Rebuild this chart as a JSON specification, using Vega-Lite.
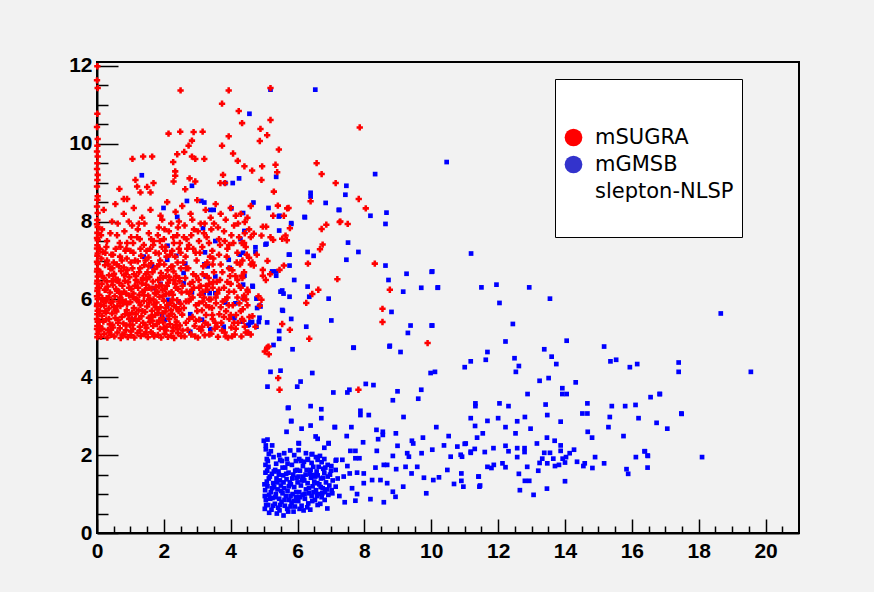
{
"$schema":"https://vega.github.io/schema/vega-lite/v6.json",
"width":702,"height":471,
"autosize":{"type":"none"},
"padding":{"left":97,"top":62,"right":75,"bottom":59},
"background":"#f2f2f2",
"config":{"view":{"stroke":"black","strokeWidth":2},"axis":{"grid":false,"title":null,"domainColor":"black","domainWidth":2,"tickColor":"black","tickWidth":1.5,"labelColor":"black","labelFont":"Liberation Sans","labelFontWeight":"bold","labelFontSize":21,"labelOverlap":false,"labelFlush":false}},
"datasets":{
"blue":[
{"x":5.02,"y":0.62},{"x":5.05,"y":0.85},{"x":5.03,"y":1.1},{"x":5.08,"y":1.32},{"x":5.04,"y":1.55},{"x":5.12,"y":0.72},{"x":5.15,"y":0.98},{"x":5.1,"y":1.2},{"x":5.17,"y":1.45},{"x":5.13,"y":1.7},{"x":5.22,"y":0.6},{"x":5.25,"y":0.9},{"x":5.2,"y":1.05},{"x":5.27,"y":1.28},{"x":5.23,"y":1.52},{"x":5.32,"y":0.75},{"x":5.35,"y":1.0},{"x":5.3,"y":1.18},{"x":5.37,"y":1.4},{"x":5.33,"y":1.62},{"x":5.42,"y":0.65},{"x":5.45,"y":0.88},{"x":5.4,"y":1.12},{"x":5.47,"y":1.35},{"x":5.43,"y":1.58},{"x":5.52,"y":0.8},{"x":5.55,"y":1.02},{"x":5.5,"y":1.22},{"x":5.57,"y":1.48},{"x":5.53,"y":1.85},{"x":5.62,"y":0.7},{"x":5.65,"y":0.95},{"x":5.6,"y":1.15},{"x":5.67,"y":1.38},{"x":5.63,"y":1.68},{"x":5.72,"y":0.55},{"x":5.75,"y":0.85},{"x":5.7,"y":1.08},{"x":5.77,"y":1.3},{"x":5.73,"y":1.55},{"x":5.82,"y":0.78},{"x":5.85,"y":1.0},{"x":5.8,"y":1.25},{"x":5.87,"y":1.5},{"x":5.83,"y":1.75},{"x":5.92,"y":0.68},{"x":5.95,"y":0.92},{"x":5.9,"y":1.18},{"x":5.97,"y":1.42},{"x":6.02,"y":0.82},{"x":6.05,"y":1.05},{"x":6.0,"y":1.3},{"x":6.07,"y":1.6},{"x":6.12,"y":0.7},{"x":6.15,"y":0.98},{"x":6.1,"y":1.22},{"x":6.17,"y":1.45},{"x":6.22,"y":0.88},{"x":6.25,"y":1.12},{"x":6.2,"y":1.35},{"x":6.27,"y":1.62},{"x":6.32,"y":0.76},{"x":6.35,"y":1.02},{"x":6.3,"y":1.28},{"x":6.37,"y":1.52},{"x":6.42,"y":0.95},{"x":6.45,"y":1.2},{"x":6.4,"y":1.42},{"x":6.47,"y":1.7},{"x":6.52,"y":0.85},{"x":6.55,"y":1.1},{"x":6.5,"y":1.32},{"x":6.57,"y":1.58},{"x":6.62,"y":1.0},{"x":6.65,"y":1.25},{"x":6.6,"y":1.48},{"x":6.72,"y":0.92},{"x":6.75,"y":1.15},{"x":6.7,"y":1.4},{"x":6.77,"y":1.65},{"x":6.82,"y":1.05},{"x":6.85,"y":1.3},{"x":6.8,"y":1.55},{"x":6.92,"y":0.98},{"x":6.95,"y":1.22},{"x":6.9,"y":1.45},{"x":7.02,"y":1.1},{"x":7.05,"y":1.35},{"x":7.0,"y":1.6},{"x":5.08,"y":1.9},{"x":5.28,"y":1.95},{"x":5.48,"y":1.88},{"x":5.68,"y":1.9},{"x":5.2,"y":2.1},{"x":5.05,"y":2.25},{"x":5.1,"y":2.4},{"x":5.6,"y":2.05},{"x":5.9,"y":2.0},{"x":6.1,"y":1.85},{"x":6.3,"y":1.9},{"x":6.55,"y":1.95},{"x":6.8,"y":1.9},{"x":5.38,"y":0.5},{"x":5.58,"y":0.45},{"x":5.88,"y":0.55},{"x":6.18,"y":0.58},{"x":6.38,"y":0.6},{"x":6.68,"y":0.75},{"x":5.15,"y":0.52},{"x":5.98,"y":1.62},{"x":6.05,"y":1.9},
{"x":5.06,"y":0.72},{"x":5.14,"y":1.4},{"x":5.18,"y":0.88},{"x":5.24,"y":1.15},{"x":5.29,"y":1.58},{"x":5.34,"y":0.92},{"x":5.38,"y":1.3},{"x":5.44,"y":1.5},{"x":5.48,"y":0.72},{"x":5.51,"y":1.08},{"x":5.58,"y":1.3},{"x":5.61,"y":0.85},{"x":5.66,"y":1.52},{"x":5.69,"y":0.62},{"x":5.74,"y":1.2},{"x":5.79,"y":0.95},{"x":5.84,"y":1.4},{"x":5.89,"y":0.82},{"x":5.93,"y":1.6},{"x":5.96,"y":1.05},{"x":6.03,"y":1.45},{"x":6.08,"y":0.92},{"x":6.13,"y":1.35},{"x":6.16,"y":1.72},{"x":6.21,"y":1.0},{"x":6.24,"y":1.5},{"x":6.29,"y":0.66},{"x":6.34,"y":1.15},{"x":6.39,"y":1.62},{"x":6.44,"y":0.82},{"x":6.48,"y":1.05},{"x":6.53,"y":1.45},{"x":6.58,"y":0.95},{"x":6.63,"y":1.7},{"x":6.69,"y":1.18},{"x":6.76,"y":1.42},{"x":6.83,"y":1.68},{"x":6.88,"y":1.12},{"x":6.97,"y":1.5},{"x":5.11,"y":1.85},{"x":5.24,"y":2.25},{"x":5.36,"y":1.78},{"x":5.45,"y":2.0},{"x":5.55,"y":1.68},{"x":5.7,"y":1.78},{"x":5.78,"y":2.12},{"x":5.95,"y":1.85},{"x":6.25,"y":2.05},{"x":6.42,"y":1.8},{"x":6.6,"y":1.88},{"x":5.27,"y":0.7},{"x":5.46,"y":0.58},{"x":5.79,"y":0.68},{"x":6.06,"y":0.62},{"x":5.01,"y":1.25},{"x":5.02,"y":0.95},{"x":5.04,"y":1.75},{"x":6.6,"y":0.72},{"x":7.2,"y":1.4},{"x":7.25,"y":0.95},
{"x":4.99,"y":2.37},{"x":5.05,"y":2.15},{"x":5.14,"y":2.03},{"x":5.09,"y":1.6},{"x":5.71,"y":3.21},{"x":5.81,"y":2.87},{"x":5.67,"y":2.6},{"x":5.1,"y":3.76},{"x":5.99,"y":3.76},{"x":6.09,"y":3.89},{"x":7.07,"y":3.61},{"x":6.39,"y":3.26},{"x":6.71,"y":3.18},{"x":6.71,"y":2.95},{"x":6.39,"y":2.76},{"x":6.12,"y":2.68},{"x":7.11,"y":2.72},{"x":6.03,"y":2.31},{"x":6.03,"y":2.13},{"x":6.54,"y":2.48},{"x":6.93,"y":2.31},{"x":6.8,"y":2.19},{"x":6.67,"y":1.98},{"x":6.44,"y":2.03},{"x":6.19,"y":1.83},{"x":7.14,"y":1.86},{"x":6.9,"y":1.75},{"x":7.14,"y":1.62},
{"x":7.68,"y":4.76},{"x":8.76,"y":4.81},{"x":9.08,"y":4.65},{"x":5.85,"y":4.72},{"x":5.19,"y":4.14},{"x":5.49,"y":4.17},{"x":6.44,"y":4.11},{"x":7.49,"y":3.61},{"x":7.55,"y":3.68},{"x":8.04,"y":3.83},{"x":8.27,"y":3.8},{"x":8.99,"y":3.64},{"x":8.85,"y":3.41},{"x":9.7,"y":3.68},{"x":9.61,"y":3.45},{"x":9.98,"y":4.11},{"x":10.11,"y":4.14},{"x":11.0,"y":4.26},{"x":11.18,"y":4.41},{"x":11.32,"y":3.33},{"x":11.32,"y":3.26},{"x":11.18,"y":2.95},{"x":11.31,"y":2.75},{"x":5.73,"y":3.22},{"x":5.81,"y":2.88},{"x":7.12,"y":2.72},{"x":7.61,"y":2.72},{"x":7.88,"y":3.14},{"x":7.88,"y":3.03},{"x":8.13,"y":3.03},{"x":8.36,"y":2.65},{"x":8.55,"y":2.6},{"x":8.55,"y":2.52},{"x":8.94,"y":2.56},{"x":9.17,"y":2.98},{"x":10.15,"y":2.72},{"x":10.52,"y":2.49},{"x":9.75,"y":2.45},{"x":9.42,"y":2.37},{"x":9.46,"y":2.3},{"x":8.41,"y":2.41},{"x":7.96,"y":2.33},{"x":7.47,"y":2.49},{"x":6.6,"y":2.42},{"x":6.93,"y":2.3},{"x":6.04,"y":2.3},{"x":6.42,"y":2.02},{"x":7.58,"y":2.11},{"x":7.73,"y":2.11},{"x":8.37,"y":2.11},{"x":8.99,"y":2.24},{"x":9.28,"y":2.05},{"x":9.33,"y":1.96},{"x":8.85,"y":1.98},{"x":9.71,"y":2.05},{"x":10.03,"y":2.14},{"x":10.38,"y":2.25},{"x":10.58,"y":1.96},{"x":10.78,"y":2.22},{"x":10.88,"y":2.01},{"x":11.03,"y":2.3},{"x":11.18,"y":2.09},{"x":7.34,"y":1.88},{"x":7.16,"y":1.88},{"x":7.73,"y":1.92},{"x":7.85,"y":1.92},{"x":7.01,"y":1.72},{"x":6.72,"y":1.82},{"x":6.31,"y":1.88},{"x":7.49,"y":1.72},{"x":7.56,"y":1.53},{"x":7.78,"y":1.55},{"x":7.98,"y":1.53},{"x":8.33,"y":1.68},{"x":8.58,"y":1.75},{"x":8.68,"y":1.75},{"x":8.95,"y":1.64},{"x":9.23,"y":1.7},{"x":9.58,"y":1.7},{"x":9.41,"y":1.53},{"x":9.78,"y":1.42},{"x":10.06,"y":1.36},{"x":10.23,"y":1.43},{"x":10.48,"y":1.62},{"x":10.68,"y":1.26},{"x":10.96,"y":1.19},{"x":11.44,"y":1.19},{"x":11.41,"y":1.45},{"x":7.98,"y":1.28},{"x":8.23,"y":1.36},{"x":8.48,"y":1.36},{"x":8.68,"y":1.28},{"x":9.16,"y":1.19},{"x":8.85,"y":1.06},{"x":8.93,"y":0.93},{"x":9.85,"y":1.02},{"x":8.58,"y":0.79},{"x":8.18,"y":0.87},{"x":7.73,"y":0.83},{"x":7.41,"y":0.79},{"x":6.89,"y":0.63},{"x":7.63,"y":1.15},{"x":7.78,"y":1.0},{"x":7.38,"y":1.45},{"x":7.14,"y":1.19},{"x":7.04,"y":1.02},{"x":6.81,"y":0.85},{"x":6.74,"y":1.02},{"x":6.49,"y":1.49},{"x":6.59,"y":1.28},
{"x":12.22,"y":4.92},{"x":14.05,"y":4.94},{"x":15.17,"y":4.79},{"x":11.68,"y":4.65},{"x":11.63,"y":4.45},{"x":12.49,"y":4.49},{"x":12.62,"y":4.29},{"x":12.53,"y":4.14},{"x":13.38,"y":4.72},{"x":13.6,"y":4.53},{"x":13.74,"y":4.34},{"x":15.36,"y":4.41},{"x":15.53,"y":4.45},{"x":15.94,"y":4.26},{"x":16.16,"y":4.34},{"x":17.4,"y":4.38},{"x":17.4,"y":4.14},{"x":13.24,"y":3.91},{"x":13.51,"y":3.98},{"x":14.32,"y":3.87},{"x":13.92,"y":3.72},{"x":13.92,"y":3.57},{"x":14.05,"y":3.57},{"x":12.88,"y":3.57},{"x":12.04,"y":3.33},{"x":12.31,"y":3.26},{"x":14.67,"y":3.33},{"x":13.42,"y":3.3},{"x":15.4,"y":3.26},{"x":15.8,"y":3.26},{"x":16.11,"y":3.29},{"x":16.56,"y":3.49},{"x":16.83,"y":3.57},{"x":17.48,"y":3.07},{"x":16.74,"y":2.83},{"x":17.06,"y":2.68},{"x":16.2,"y":2.95},{"x":15.34,"y":2.98},{"x":15.3,"y":2.72},{"x":15.75,"y":2.49},{"x":14.52,"y":3.07},{"x":14.67,"y":3.07},{"x":13.87,"y":2.86},{"x":13.47,"y":3.03},{"x":12.8,"y":2.98},{"x":12.57,"y":2.87},{"x":12.97,"y":2.68},{"x":12.22,"y":2.72},{"x":12.0,"y":2.95},{"x":11.68,"y":2.88},{"x":11.54,"y":2.56},{"x":11.37,"y":2.45},{"x":12.52,"y":2.56},{"x":13.46,"y":2.45},{"x":13.69,"y":2.37},{"x":13.87,"y":2.25},{"x":13.87,"y":2.11},{"x":14.27,"y":2.14},{"x":14.14,"y":2.05},{"x":14.03,"y":1.95},{"x":13.93,"y":1.91},{"x":14.0,"y":1.81},{"x":13.82,"y":1.75},{"x":13.7,"y":1.72},{"x":13.65,"y":1.91},{"x":13.47,"y":1.79},{"x":13.32,"y":1.91},{"x":13.38,"y":2.06},{"x":13.55,"y":2.06},{"x":13.16,"y":2.3},{"x":13.24,"y":1.8},{"x":13.2,"y":1.6},{"x":13.46,"y":1.14},{"x":14.0,"y":1.33},{"x":12.87,"y":1.7},{"x":12.62,"y":1.52},{"x":12.8,"y":1.34},{"x":12.93,"y":1.34},{"x":12.65,"y":1.1},{"x":13.06,"y":0.98},{"x":12.79,"y":2.08},{"x":12.79,"y":2.18},{"x":12.57,"y":2.18},{"x":12.57,"y":1.95},{"x":12.22,"y":2.24},{"x":12.22,"y":1.69},{"x":12.13,"y":1.79},{"x":12.31,"y":2.1},{"x":11.86,"y":2.18},{"x":11.6,"y":2.08},{"x":11.3,"y":2.16},{"x":11.18,"y":2.06},{"x":11.0,"y":2.29},{"x":10.92,"y":1.96},{"x":11.68,"y":1.7},{"x":11.87,"y":1.75},{"x":11.8,"y":1.67},{"x":11.42,"y":1.45},{"x":11.46,"y":1.22},{"x":10.9,"y":1.53},{"x":10.9,"y":1.34},{"x":14.36,"y":1.83},{"x":14.59,"y":1.79},{"x":14.55,"y":1.72},{"x":14.82,"y":1.67},{"x":14.9,"y":1.95},{"x":15.17,"y":1.79},{"x":14.68,"y":2.6},{"x":14.81,"y":2.45},{"x":16.12,"y":1.95},{"x":16.38,"y":2.1},{"x":16.48,"y":1.98},{"x":16.47,"y":1.68},{"x":15.84,"y":1.64},{"x":15.89,"y":1.52},{"x":18.1,"y":1.95},
{"x":18.66,"y":5.64},{"x":19.56,"y":4.14},{"x":16.84,"y":3.57},{"x":17.49,"y":3.06},{"x":16.39,"y":2.1},{"x":16.47,"y":1.99},
{"x":10.46,"y":9.53},{"x":11.19,"y":7.18},{"x":10.03,"y":6.72},{"x":10.2,"y":6.31},{"x":11.5,"y":6.31},{"x":11.95,"y":6.38},{"x":12.93,"y":6.31},{"x":12.04,"y":5.91},{"x":13.55,"y":6.02},{"x":10.03,"y":5.33},{"x":12.44,"y":5.37},
{"x":5.19,"y":11.39},{"x":6.53,"y":11.39},{"x":4.56,"y":10.77},{"x":8.32,"y":9.22},{"x":7.46,"y":8.92},{"x":7.43,"y":8.69},{"x":6.39,"y":8.74},{"x":6.39,"y":8.64},{"x":6.84,"y":8.48},{"x":7.25,"y":8.3},{"x":8.18,"y":8.15},{"x":8.66,"y":8.23},{"x":8.63,"y":7.94},{"x":7.51,"y":7.46},{"x":7.82,"y":7.22},{"x":7.46,"y":7.02},{"x":8.63,"y":6.87},{"x":9.26,"y":6.66},{"x":10.01,"y":6.71},{"x":8.72,"y":6.5},{"x":9.16,"y":6.2},{"x":9.7,"y":6.3},{"x":10.19,"y":6.3},{"x":8.81,"y":5.68},{"x":9.38,"y":5.33},{"x":10.01,"y":5.33},{"x":9.3,"y":5.14},{"x":8.75,"y":4.79},{"x":7.67,"y":4.76},{"x":7.01,"y":5.46},{"x":6.26,"y":5.3},{"x":6.35,"y":6.07},{"x":6.3,"y":6.33},{"x":6.93,"y":6.02},{"x":5.9,"y":6.5},{"x":5.76,"y":6.87},{"x":5.76,"y":7.15},{"x":6.48,"y":7.12},{"x":6.3,"y":7.22},{"x":5.81,"y":7.94},{"x":6.21,"y":8.12},{"x":5.46,"y":8.15},{"x":5.45,"y":7.77},{"x":5.13,"y":8.35},{"x":5.04,"y":7.41},{"x":4.74,"y":7.22},{"x":4.68,"y":8.49},{"x":5.36,"y":9.15},{"x":5.24,"y":6.72},{"x":5.36,"y":6.72},{"x":5.36,"y":6.61},{"x":5.54,"y":6.23},{"x":5.58,"y":6.15},{"x":5.76,"y":6.07},{"x":5.54,"y":5.73},{"x":5.81,"y":5.5},{"x":5.09,"y":5.41},{"x":5.45,"y":5.19},{"x":5.45,"y":4.99},{"x":5.28,"y":4.83},{"x":4.86,"y":5.53},{"x":4.5,"y":5.33},{"x":4.5,"y":5.14},{"x":4.77,"y":5.3},{"x":4.59,"y":5.41},{"x":4.41,"y":6.61},{"x":4.37,"y":6.38},{"x":4.65,"y":6.35},{"x":4.86,"y":5.84},{"x":4.77,"y":6.02},{"x":4.41,"y":7.76},{"x":4.37,"y":7.2},
{"x":1.34,"y":9.19},{"x":2.84,"y":8.92},{"x":3.84,"y":8.99},{"x":4.06,"y":8.99},{"x":4.25,"y":9.11},{"x":3.12,"y":8.53},{"x":3.21,"y":8.49},{"x":2.69,"y":8.53},{"x":3.39,"y":8.3},{"x":3.49,"y":8.3},{"x":4.02,"y":8.34},{"x":5.44,"y":8.13},{"x":5.81,"y":7.96},{"x":6.22,"y":8.11},{"x":7.23,"y":8.3},{"x":1.99,"y":8.35},{"x":2.4,"y":8.12},{"x":3.17,"y":7.83},{"x":4.29,"y":7.55},{"x":4.37,"y":8.22},{"x":3.54,"y":7.5},{"x":3.23,"y":7.21},{"x":2.37,"y":7.12},{"x":2.11,"y":7.38},{"x":2.64,"y":6.92},{"x":3.21,"y":6.9},{"x":4.27,"y":7.15},{"x":4.74,"y":7.34},{"x":5.07,"y":7.43},{"x":5.74,"y":7.15},{"x":3.94,"y":7.02},{"x":3.97,"y":6.81},{"x":3.54,"y":6.59},{"x":3.31,"y":6.85},{"x":3.25,"y":6.59},{"x":2.59,"y":6.68},{"x":2.59,"y":6.42},{"x":1.9,"y":6.4},{"x":1.69,"y":6.29},{"x":2.13,"y":5.99},{"x":2.44,"y":5.95},{"x":2.84,"y":6.18},{"x":3.19,"y":6.16},{"x":3.37,"y":6.16},{"x":3.54,"y":6.16},{"x":3.84,"y":5.92},{"x":4.14,"y":5.9},{"x":4.39,"y":6.02},{"x":4.66,"y":6.33},{"x":4.89,"y":5.82},{"x":4.79,"y":5.78},{"x":5.49,"y":6.2},{"x":5.56,"y":5.71},{"x":4.11,"y":5.52},{"x":4.34,"y":5.43},{"x":4.54,"y":5.35},{"x":4.64,"y":5.42},{"x":4.84,"y":5.42},{"x":3.79,"y":5.3},{"x":3.79,"y":5.22},{"x":3.39,"y":5.24},{"x":3.14,"y":5.48},{"x":2.79,"y":5.62},{"x":2.79,"y":5.17},{"x":1.95,"y":5.6},{"x":2.04,"y":5.48},{"x":2.1,"y":5.82},{"x":1.05,"y":5.48},{"x":1.4,"y":7.1},{"x":1.65,"y":6.85},{"x":2.1,"y":7.02}
],
"red":[
{"x":0.01,"y":11.99},{"x":0.0,"y":11.63},{"x":0.02,"y":11.43},{"x":0.01,"y":10.77},{"x":0.0,"y":10.43},{"x":0.02,"y":10.12},{"x":0.01,"y":9.95},{"x":0.0,"y":9.8},{"x":0.02,"y":9.67},{"x":0.01,"y":9.5},{"x":0.0,"y":9.35},{"x":0.02,"y":9.2},{"x":0.01,"y":9.07},{"x":0.0,"y":8.9},{"x":0.02,"y":8.65},{"x":0.01,"y":8.56},{"x":0.0,"y":8.39},{"x":0.02,"y":8.22},{"x":0.01,"y":8.04},{"x":0.0,"y":7.93},{"x":0.02,"y":7.86},{"x":0.01,"y":7.71},{"x":0.0,"y":7.58},{"x":0.02,"y":7.52},{"x":0.01,"y":7.39},{"x":0.0,"y":7.31},{"x":0.02,"y":7.18},{"x":0.01,"y":7.12},{"x":0.0,"y":6.97},{"x":0.02,"y":6.91},{"x":0.01,"y":6.78},{"x":0.0,"y":6.72},{"x":0.02,"y":6.59},{"x":0.01,"y":6.48},{"x":0.0,"y":6.41},{"x":0.02,"y":6.29},{"x":0.01,"y":6.22},{"x":0.0,"y":6.08},{"x":0.02,"y":6.01},{"x":0.01,"y":5.89},{"x":0.0,"y":5.83},{"x":0.02,"y":5.71},{"x":0.01,"y":5.62},{"x":0.0,"y":5.5},{"x":0.02,"y":5.43},{"x":0.01,"y":5.32},{"x":0.0,"y":5.24},{"x":0.02,"y":5.11},{"x":0.01,"y":5.03},
{"x":0.12,"y":5.04},{"x":0.08,"y":5.31},{"x":0.15,"y":5.58},{"x":0.11,"y":5.86},{"x":0.07,"y":6.12},{"x":0.14,"y":6.4},{"x":0.1,"y":6.71},{"x":0.13,"y":7.05},
{"x":0.22,"y":5.12},{"x":0.19,"y":5.43},{"x":0.25,"y":5.7},{"x":0.18,"y":5.97},{"x":0.23,"y":6.25},{"x":0.2,"y":6.55},{"x":0.24,"y":6.88},{"x":0.17,"y":7.22},
{"x":0.31,"y":5.02},{"x":0.33,"y":5.22},{"x":0.28,"y":5.49},{"x":0.35,"y":5.77},{"x":0.29,"y":6.03},{"x":0.32,"y":6.33},{"x":0.36,"y":6.62},{"x":0.3,"y":7.0},
{"x":0.42,"y":5.09},{"x":0.38,"y":5.36},{"x":0.45,"y":5.64},{"x":0.41,"y":5.91},{"x":0.39,"y":6.18},{"x":0.44,"y":6.47},{"x":0.4,"y":6.79},{"x":0.43,"y":7.15},
{"x":0.52,"y":5.05},{"x":0.48,"y":5.28},{"x":0.55,"y":5.52},{"x":0.5,"y":5.81},{"x":0.53,"y":6.08},{"x":0.47,"y":6.37},{"x":0.51,"y":6.66},{"x":0.56,"y":7.3},
{"x":0.61,"y":5.15},{"x":0.63,"y":5.4},{"x":0.58,"y":5.69},{"x":0.65,"y":5.95},{"x":0.6,"y":6.22},{"x":0.62,"y":6.51},{"x":0.59,"y":6.9},
{"x":0.71,"y":5.01},{"x":0.68,"y":5.26},{"x":0.74,"y":5.55},{"x":0.7,"y":5.83},{"x":0.73,"y":6.14},{"x":0.67,"y":6.42},{"x":0.72,"y":6.73},{"x":0.69,"y":7.1},
{"x":0.82,"y":5.1},{"x":0.79,"y":5.38},{"x":0.84,"y":5.62},{"x":0.78,"y":5.9},{"x":0.81,"y":6.2},{"x":0.83,"y":6.48},{"x":0.8,"y":6.82},{"x":0.85,"y":7.25},
{"x":0.92,"y":5.03},{"x":0.88,"y":5.33},{"x":0.94,"y":5.6},{"x":0.9,"y":5.88},{"x":0.87,"y":6.15},{"x":0.93,"y":6.44},{"x":0.91,"y":6.76},{"x":0.89,"y":7.05},
{"x":1.02,"y":5.08},{"x":0.98,"y":5.35},{"x":1.05,"y":5.66},{"x":1.0,"y":5.93},{"x":1.03,"y":6.27},{"x":0.97,"y":6.57},{"x":1.01,"y":6.95},
{"x":1.12,"y":5.02},{"x":1.08,"y":5.24},{"x":1.14,"y":5.5},{"x":1.1,"y":5.78},{"x":1.07,"y":6.06},{"x":1.13,"y":6.35},{"x":1.11,"y":6.65},{"x":1.09,"y":7.2},
{"x":1.21,"y":5.14},{"x":1.18,"y":5.45},{"x":1.24,"y":5.72},{"x":1.2,"y":6.0},{"x":1.23,"y":6.3},{"x":1.17,"y":6.6},{"x":1.22,"y":6.98},
{"x":1.31,"y":5.06},{"x":1.28,"y":5.3},{"x":1.33,"y":5.57},{"x":1.3,"y":5.85},{"x":1.27,"y":6.12},{"x":1.34,"y":6.41},{"x":1.29,"y":6.8},{"x":1.32,"y":7.12},
{"x":1.42,"y":5.11},{"x":1.38,"y":5.4},{"x":1.44,"y":5.68},{"x":1.4,"y":5.96},{"x":1.43,"y":6.24},{"x":1.37,"y":6.55},{"x":1.41,"y":6.88},
{"x":1.52,"y":5.03},{"x":1.48,"y":5.27},{"x":1.55,"y":5.53},{"x":1.5,"y":5.82},{"x":1.53,"y":6.1},{"x":1.47,"y":6.38},{"x":1.51,"y":6.7},{"x":1.54,"y":7.08},
{"x":1.61,"y":5.16},{"x":1.58,"y":5.42},{"x":1.64,"y":5.71},{"x":1.6,"y":5.99},{"x":1.63,"y":6.28},{"x":1.57,"y":6.58},{"x":1.62,"y":6.93},{"x":1.59,"y":7.3},
{"x":1.71,"y":5.05},{"x":1.68,"y":5.32},{"x":1.74,"y":5.6},{"x":1.7,"y":5.87},{"x":1.73,"y":6.16},{"x":1.67,"y":6.46},{"x":1.72,"y":6.78},
{"x":1.82,"y":5.09},{"x":1.79,"y":5.37},{"x":1.84,"y":5.65},{"x":1.78,"y":5.92},{"x":1.81,"y":6.2},{"x":1.83,"y":6.5},{"x":1.8,"y":6.85},{"x":1.85,"y":7.18},
{"x":1.92,"y":5.02},{"x":1.88,"y":5.25},{"x":1.94,"y":5.52},{"x":1.9,"y":5.8},{"x":1.87,"y":6.07},{"x":1.93,"y":6.36},{"x":1.91,"y":6.68},{"x":1.89,"y":7.0},
{"x":2.02,"y":5.12},{"x":1.98,"y":5.41},{"x":2.05,"y":5.69},{"x":2.0,"y":5.97},{"x":2.03,"y":6.26},{"x":1.97,"y":6.56},{"x":2.01,"y":6.9},{"x":2.04,"y":7.25},
{"x":2.12,"y":5.04},{"x":2.08,"y":5.3},{"x":2.14,"y":5.58},{"x":2.1,"y":5.86},{"x":2.07,"y":6.14},{"x":2.13,"y":6.43},{"x":2.11,"y":6.75},
{"x":2.21,"y":5.07},{"x":2.18,"y":5.36},{"x":2.24,"y":5.63},{"x":2.2,"y":5.91},{"x":2.23,"y":6.19},{"x":2.17,"y":6.5},{"x":2.22,"y":6.84},{"x":2.19,"y":7.15},
{"x":2.31,"y":5.01},{"x":2.28,"y":5.28},{"x":2.33,"y":5.55},{"x":2.3,"y":5.84},{"x":2.27,"y":6.12},{"x":2.34,"y":6.4},{"x":2.29,"y":6.72},
{"x":2.42,"y":5.13},{"x":2.38,"y":5.43},{"x":2.44,"y":5.7},{"x":2.4,"y":5.98},{"x":2.43,"y":6.27},{"x":2.37,"y":6.6},{"x":2.41,"y":6.95},{"x":2.45,"y":7.3},
{"x":2.52,"y":5.06},{"x":2.48,"y":5.33},{"x":2.55,"y":5.61},{"x":2.5,"y":5.89},{"x":2.53,"y":6.18},{"x":2.47,"y":6.47},{"x":2.51,"y":6.8},
{"x":0.05,"y":5.18},{"x":0.27,"y":5.66},{"x":0.46,"y":5.95},{"x":0.64,"y":5.47},{"x":0.86,"y":5.21},{"x":1.04,"y":5.5},{"x":1.26,"y":5.92},{"x":1.45,"y":5.34},{"x":1.66,"y":5.13},{"x":1.86,"y":5.46},{"x":2.06,"y":5.78},{"x":2.26,"y":5.19},{"x":0.16,"y":6.03},{"x":0.37,"y":5.15},{"x":0.57,"y":6.27},{"x":0.76,"y":5.98},{"x":0.96,"y":6.3},{"x":1.16,"y":5.62},{"x":1.36,"y":6.5},{"x":1.56,"y":5.92},{"x":1.76,"y":6.32},{"x":1.96,"y":6.08},{"x":2.16,"y":6.58},{"x":2.36,"y":5.8},{"x":0.09,"y":5.7},{"x":0.29,"y":6.46},{"x":0.49,"y":6.6},{"x":0.69,"y":6.05},{"x":0.89,"y":5.72},{"x":1.09,"y":6.15},{"x":1.29,"y":5.2},{"x":1.49,"y":6.52},{"x":1.69,"y":6.0},{"x":1.89,"y":6.55},{"x":2.09,"y":6.35},{"x":2.29,"y":6.5},{"x":0.21,"y":5.84},{"x":0.41,"y":5.22},{"x":0.61,"y":5.83},{"x":0.81,"y":6.62},{"x":1.01,"y":5.18},{"x":1.21,"y":6.45},{"x":1.41,"y":6.1},{"x":1.61,"y":5.55},{"x":1.81,"y":5.75},{"x":2.01,"y":5.28},{"x":2.21,"y":5.72},{"x":2.41,"y":5.24},{"x":0.34,"y":6.9},{"x":0.74,"y":7.0},{"x":1.14,"y":7.0},{"x":1.54,"y":6.85},{"x":1.94,"y":7.35},{"x":2.34,"y":7.1},
{"x":0.06,"y":5.45},{"x":0.16,"y":5.25},{"x":0.26,"y":5.95},{"x":0.36,"y":5.5},{"x":0.46,"y":5.35},{"x":0.56,"y":5.72},{"x":0.66,"y":6.2},{"x":0.76,"y":5.1},{"x":0.86,"y":5.95},{"x":0.96,"y":5.5},{"x":1.06,"y":5.35},{"x":1.16,"y":6.0},{"x":1.26,"y":5.5},{"x":1.36,"y":5.7},{"x":1.46,"y":5.15},{"x":1.56,"y":6.3},{"x":1.66,"y":5.45},{"x":1.76,"y":5.8},{"x":1.86,"y":6.35},{"x":1.96,"y":5.65},{"x":2.06,"y":5.2},{"x":2.16,"y":5.5},{"x":2.26,"y":6.0},{"x":2.36,"y":5.35},{"x":2.46,"y":5.75},{"x":2.56,"y":5.2},{"x":2.66,"y":5.95},{"x":2.76,"y":5.5},{"x":2.86,"y":6.05},{"x":2.96,"y":5.45},{"x":3.06,"y":5.25},{"x":3.16,"y":6.2},{"x":3.26,"y":5.85},{"x":3.36,"y":5.1},{"x":3.46,"y":6.3},
{"x":0.06,"y":6.3},{"x":0.16,"y":6.6},{"x":0.26,"y":6.25},{"x":0.36,"y":6.05},{"x":0.46,"y":6.8},{"x":0.56,"y":6.5},{"x":0.66,"y":6.85},{"x":0.76,"y":6.35},{"x":0.86,"y":6.65},{"x":0.96,"y":6.1},{"x":1.06,"y":6.8},{"x":1.16,"y":6.5},{"x":1.26,"y":6.7},{"x":1.36,"y":6.2},{"x":1.46,"y":6.65},{"x":1.56,"y":6.0},{"x":1.66,"y":6.7},{"x":1.76,"y":6.15},{"x":1.86,"y":6.9},{"x":1.96,"y":6.25},{"x":2.06,"y":6.6},{"x":2.16,"y":6.15},{"x":2.26,"y":6.85},{"x":2.36,"y":6.3},{"x":2.46,"y":6.55},{"x":2.56,"y":6.35},{"x":2.66,"y":6.8},{"x":2.76,"y":6.15},{"x":2.86,"y":6.45},{"x":2.96,"y":6.6},{"x":3.06,"y":6.3},{"x":3.16,"y":6.65},{"x":3.26,"y":6.35},{"x":3.36,"y":6.4},{"x":3.46,"y":6.9},
{"x":0.08,"y":7.3},{"x":0.28,"y":7.35},{"x":0.48,"y":7.15},{"x":0.68,"y":7.45},{"x":0.88,"y":7.3},{"x":1.08,"y":7.45},{"x":1.28,"y":7.55},{"x":1.48,"y":7.25},{"x":1.68,"y":7.4},{"x":1.88,"y":7.5},{"x":2.08,"y":7.1},{"x":2.28,"y":7.6},{"x":2.48,"y":7.45},{"x":2.68,"y":7.55},{"x":2.88,"y":7.3},{"x":3.08,"y":7.2},{"x":3.28,"y":7.6},{"x":3.48,"y":7.05},{"x":3.68,"y":7.4},{"x":3.88,"y":7.1},{"x":4.08,"y":7.45},{"x":4.28,"y":6.9},{"x":4.48,"y":7.15},
{"x":0.12,"y":7.65},{"x":0.4,"y":7.7},{"x":0.62,"y":7.95},{"x":0.82,"y":7.75},{"x":1.02,"y":7.6},{"x":1.22,"y":7.8},{"x":1.42,"y":7.95},{"x":1.62,"y":7.55},{"x":1.82,"y":7.65},{"x":2.02,"y":7.8},{"x":2.22,"y":7.95},{"x":2.42,"y":7.85},{"x":2.62,"y":7.9},{"x":2.82,"y":7.65},{"x":3.02,"y":7.75},{"x":3.22,"y":7.95},{"x":3.42,"y":7.8},{"x":3.62,"y":7.85},{"x":3.82,"y":7.5},{"x":4.02,"y":7.65},{"x":4.22,"y":7.95},{"x":4.42,"y":7.7},
{"x":3.6,"y":5.3},{"x":3.7,"y":5.8},{"x":3.8,"y":5.55},{"x":3.9,"y":6.45},{"x":4.0,"y":5.6},{"x":4.1,"y":5.4},{"x":4.2,"y":6.05},{"x":4.3,"y":5.7},{"x":4.4,"y":6.1},{"x":4.5,"y":5.85},{"x":3.65,"y":6.25},{"x":3.75,"y":6.7},{"x":3.85,"y":5.05},{"x":3.95,"y":6.2},{"x":4.05,"y":6.75},{"x":4.15,"y":5.25},{"x":4.25,"y":6.35},{"x":4.35,"y":6.55},{"x":4.45,"y":5.15},{"x":3.55,"y":6.05},{"x":3.45,"y":5.6},{"x":3.35,"y":6.0},{"x":3.25,"y":6.9},{"x":3.15,"y":5.3},{"x":3.05,"y":5.9},
{"x":2.62,"y":5.05},{"x":2.66,"y":5.4},{"x":2.6,"y":5.78},{"x":2.68,"y":6.2},{"x":2.64,"y":6.55},{"x":2.71,"y":5.22},{"x":2.74,"y":5.95},{"x":2.78,"y":6.4},{"x":2.73,"y":6.8},{"x":2.82,"y":5.1},{"x":2.86,"y":5.55},{"x":2.8,"y":6.02},{"x":2.88,"y":6.65},{"x":2.92,"y":5.32},{"x":2.96,"y":5.85},{"x":2.9,"y":6.3},{"x":2.98,"y":7.0},{"x":3.02,"y":5.02},{"x":3.06,"y":5.48},{"x":3.0,"y":5.7},{"x":3.08,"y":6.12},{"x":3.04,"y":6.5},{"x":3.12,"y":5.2},{"x":3.16,"y":5.95},{"x":3.1,"y":6.35},{"x":3.18,"y":6.85},{"x":3.22,"y":5.08},{"x":3.26,"y":5.6},{"x":3.2,"y":6.05},{"x":3.28,"y":6.6},{"x":3.32,"y":5.35},{"x":3.36,"y":5.8},{"x":3.3,"y":6.25},{"x":3.38,"y":7.1},{"x":3.42,"y":5.12},{"x":3.46,"y":5.5},{"x":3.4,"y":6.0},{"x":3.48,"y":6.45},{"x":3.52,"y":5.25},{"x":3.56,"y":5.9},{"x":3.5,"y":6.7},{"x":3.62,"y":5.04},{"x":3.66,"y":5.62},{"x":3.6,"y":6.15},{"x":3.68,"y":6.5},{"x":3.72,"y":5.4},{"x":3.76,"y":5.95},{"x":3.7,"y":6.9},{"x":3.82,"y":5.15},{"x":3.86,"y":5.7},{"x":3.8,"y":6.3},{"x":3.92,"y":5.02},{"x":3.96,"y":5.5},{"x":3.9,"y":6.05},{"x":3.98,"y":6.6},{"x":4.02,"y":5.28},{"x":4.06,"y":5.85},{"x":4.0,"y":6.4},{"x":4.12,"y":5.1},{"x":4.16,"y":5.6},{"x":4.1,"y":6.2},{"x":4.18,"y":6.95},{"x":4.22,"y":5.4},{"x":4.26,"y":5.9},{"x":4.2,"y":6.5},{"x":4.32,"y":5.05},{"x":4.36,"y":5.75},{"x":4.3,"y":6.3},{"x":4.42,"y":5.3},{"x":4.46,"y":6.0},{"x":4.4,"y":6.7},{"x":4.52,"y":5.15},{"x":4.56,"y":5.55},{"x":4.5,"y":6.25},{"x":2.58,"y":6.95},{"x":2.94,"y":5.05},{"x":3.14,"y":5.72},{"x":3.44,"y":5.78},{"x":3.74,"y":5.2},{"x":4.04,"y":5.05},{"x":4.34,"y":5.5},{"x":3.58,"y":6.45},{"x":3.34,"y":6.55},{"x":3.84,"y":6.0},{"x":4.14,"y":6.6},{"x":2.84,"y":6.25},{"x":3.24,"y":5.4},{"x":3.54,"y":5.4},{"x":3.94,"y":5.85},
{"x":0.3,"y":7.5},{"x":0.6,"y":7.65},{"x":0.45,"y":8.0},{"x":0.9,"y":7.45},{"x":1.2,"y":7.6},{"x":1.05,"y":7.9},{"x":1.4,"y":7.4},{"x":1.55,"y":7.7},{"x":1.7,"y":7.5},{"x":1.85,"y":7.85},{"x":2.0,"y":7.55},{"x":2.15,"y":7.75},{"x":2.3,"y":7.45},{"x":2.45,"y":8.0},{"x":2.6,"y":7.6},{"x":2.75,"y":7.4},{"x":2.9,"y":7.8},{"x":3.05,"y":7.5},{"x":3.2,"y":7.7},{"x":3.35,"y":7.45},{"x":3.5,"y":7.95},{"x":3.65,"y":7.55},{"x":3.8,"y":7.75},{"x":3.95,"y":7.4},{"x":4.1,"y":7.9},{"x":4.25,"y":7.6},{"x":4.4,"y":7.45},{"x":4.55,"y":7.8},
{"x":0.2,"y":8.3},{"x":0.55,"y":8.45},{"x":0.8,"y":8.2},{"x":1.1,"y":8.35},{"x":1.35,"y":8.1},{"x":1.6,"y":8.3},{"x":1.9,"y":8.15},{"x":2.1,"y":8.5},{"x":2.35,"y":8.25},{"x":2.55,"y":8.4},{"x":2.8,"y":8.2},{"x":3.0,"y":8.55},{"x":3.25,"y":8.3},{"x":3.55,"y":8.45},{"x":3.7,"y":8.2},{"x":4.0,"y":8.35},{"x":4.3,"y":8.2},{"x":4.6,"y":8.4},
{"x":0.25,"y":7.2},{"x":0.7,"y":7.35},{"x":1.0,"y":7.25},{"x":1.3,"y":7.3},{"x":1.75,"y":7.2},{"x":2.05,"y":7.35},{"x":2.25,"y":7.25},{"x":2.5,"y":7.2},{"x":2.7,"y":7.3},{"x":2.95,"y":7.2},{"x":3.15,"y":7.35},{"x":3.45,"y":7.25},{"x":3.65,"y":7.15},{"x":3.9,"y":7.3},{"x":4.2,"y":7.2},{"x":4.45,"y":7.35},{"x":0.5,"y":6.95},{"x":1.45,"y":7.0},{"x":2.65,"y":7.1},{"x":3.3,"y":6.95},{"x":3.95,"y":6.8},{"x":4.35,"y":7.0},{"x":4.6,"y":6.9},
{"x":0.15,"y":7.8},{"x":0.95,"y":8.0},{"x":1.25,"y":7.95},{"x":1.95,"y":8.05},{"x":2.4,"y":7.65},{"x":2.85,"y":8.05},{"x":3.1,"y":7.95},{"x":3.4,"y":8.1},{"x":3.85,"y":8.05},{"x":4.15,"y":8.15},{"x":4.5,"y":8.1},
{"x":2.5,"y":11.37},{"x":3.94,"y":11.37},{"x":5.19,"y":11.43},{"x":3.74,"y":11.03},{"x":4.24,"y":10.84},{"x":4.34,"y":10.53},{"x":5.19,"y":10.61},{"x":3.94,"y":10.19},{"x":3.74,"y":9.95},{"x":4.89,"y":10.38},{"x":4.87,"y":10.07},{"x":5.09,"y":10.22},{"x":5.44,"y":9.85},{"x":2.14,"y":10.26},{"x":2.49,"y":10.31},{"x":2.89,"y":10.3},{"x":3.16,"y":10.31},{"x":2.84,"y":10.08},{"x":2.74,"y":9.95},{"x":2.61,"y":9.79},{"x":2.4,"y":9.73},{"x":2.84,"y":9.67},{"x":2.94,"y":9.61},{"x":3.21,"y":9.61},{"x":4.07,"y":9.75},{"x":4.21,"y":9.56},{"x":4.41,"y":9.42},{"x":4.64,"y":9.31},{"x":4.94,"y":9.42},{"x":5.34,"y":9.46},{"x":5.39,"y":9.27},{"x":1.06,"y":9.61},{"x":1.38,"y":9.67},{"x":1.65,"y":9.67},{"x":2.28,"y":9.53},{"x":2.34,"y":9.29},{"x":2.34,"y":9.18},{"x":2.29,"y":9.03},{"x":1.15,"y":9.07},{"x":1.2,"y":8.9},{"x":1.3,"y":8.75},{"x":1.5,"y":8.89},{"x":1.69,"y":8.99},{"x":1.6,"y":8.75},{"x":0.67,"y":8.84},{"x":0.8,"y":8.58},{"x":0.9,"y":8.58},{"x":2.77,"y":9.11},{"x":2.94,"y":9.03},{"x":2.64,"y":8.83},{"x":3.69,"y":8.99},{"x":3.83,"y":8.99},{"x":3.77,"y":9.2},{"x":4.92,"y":9.07},{"x":5.29,"y":8.77},{"x":5.41,"y":8.41},{"x":5.69,"y":8.34},{"x":6.57,"y":9.5},{"x":6.72,"y":9.22},{"x":7.14,"y":8.99},{"x":7.26,"y":7.99},{"x":6.86,"y":7.92},{"x":6.72,"y":7.81},{"x":6.39,"y":8.52},
{"x":7.86,"y":10.42},{"x":7.83,"y":8.58},{"x":8.04,"y":8.34},{"x":7.28,"y":8.0},{"x":7.5,"y":7.94},{"x":6.75,"y":7.41},{"x":6.67,"y":7.29},{"x":6.31,"y":6.92},{"x":7.19,"y":6.52},{"x":6.62,"y":6.25},{"x":6.44,"y":6.14},{"x":6.26,"y":5.91},{"x":8.31,"y":6.92},{"x":8.76,"y":6.25},{"x":8.54,"y":5.76},{"x":8.54,"y":5.42},{"x":9.89,"y":4.88},{"x":6.35,"y":4.99},{"x":5.77,"y":5.22},{"x":5.54,"y":5.37},{"x":5.09,"y":4.76},{"x":5.02,"y":4.66},{"x":5.14,"y":4.59},{"x":5.73,"y":8.35},{"x":5.27,"y":8.15},{"x":5.59,"y":8.15},{"x":4.42,"y":7.99},{"x":4.96,"y":7.87},{"x":5.06,"y":7.87},{"x":5.77,"y":7.83},{"x":4.69,"y":7.69},{"x":4.6,"y":7.6},{"x":4.92,"y":7.64},{"x":5.19,"y":7.6},{"x":5.27,"y":7.53},{"x":5.54,"y":7.56},{"x":5.64,"y":7.64},{"x":5.68,"y":7.52},{"x":4.33,"y":7.45},{"x":4.78,"y":7.15},{"x":4.55,"y":7.07},{"x":4.65,"y":6.95},{"x":4.69,"y":6.87},{"x":5.1,"y":6.99},{"x":5.59,"y":6.87},{"x":5.46,"y":6.76},{"x":5.18,"y":6.65},{"x":4.96,"y":6.76},{"x":4.96,"y":6.61},{"x":5.05,"y":6.5},{"x":4.33,"y":6.61},{"x":4.51,"y":6.19},{"x":4.38,"y":6.02},{"x":4.83,"y":6.08},{"x":4.92,"y":5.99},{"x":4.87,"y":5.84},{"x":4.65,"y":5.57},{"x":4.38,"y":5.45},{"x":4.74,"y":5.3},{"x":4.6,"y":5.1},{"x":5.42,"y":3.98},{"x":5.46,"y":3.68},{"x":7.82,"y":3.68},{"x":5.13,"y":4.79}
]
},
"layer":[
{"data":{"name":"blue"},
 "mark":{"type":"point","shape":"square","filled":true,"size":22,"opacity":1,"color":"#0000ff"},
 "encoding":{
  "x":{"field":"x","type":"quantitative","scale":{"domain":[0,21],"nice":false,"zero":false},"axis":{"orient":"bottom","values":[0,2,4,6,8,10,12,14,16,18,20],"tickSize":-14,"labelPadding":21}},
  "y":{"field":"y","type":"quantitative","scale":{"domain":[0,12.1],"nice":false,"zero":false},"axis":{"orient":"left","values":[0,2,4,6,8,10,12],"tickSize":-21,"labelPadding":26}}
 }},
{"data":{"name":"red"},
 "mark":{"type":"point","shape":"cross","filled":true,"size":40,"opacity":1},
 "encoding":{
  "x":{"field":"x","type":"quantitative","axis":{"orient":"bottom","values":[0.5,1,1.5,2.5,3,3.5,4.5,5,5.5,6.5,7,7.5,8.5,9,9.5,10.5,11,11.5,12.5,13,13.5,14.5,15,15.5,16.5,17,17.5,18.5,19,19.5,20.5],"labels":false,"domain":false,"tickSize":-7}},
  "y":{"field":"y","type":"quantitative","axis":{"orient":"left","values":[0.5,1,1.5,2.5,3,3.5,4.5,5,5.5,6.5,7,7.5,8.5,9,9.5,10.5,11,11.5],"labels":false,"domain":false,"tickSize":-11}},
  "color":{"datum":"mSUGRA","type":"nominal","scale":{"domain":["mSUGRA","mGMSB","slepton-NLSP"," "],"range":["#ff0000","#3333cc","rgba(0,0,0,0)","rgba(0,0,0,0)"]},
   "legend":{"orient":"none","legendX":458,"legendY":17,"title":" ","titleFontSize":26,"titlePadding":14,"fillColor":"white","strokeColor":"black","padding":8,"symbolType":"circle","symbolSize":314,"symbolStrokeWidth":0,"symbolOpacity":1,"labelFont":"DejaVu Sans","labelFontSize":21,"labelColor":"black","labelOffset":11,"rowPadding":5,"labelLimit":300}}
 }}
],
"resolve":{"axis":{"x":"independent","y":"independent"}}
}
